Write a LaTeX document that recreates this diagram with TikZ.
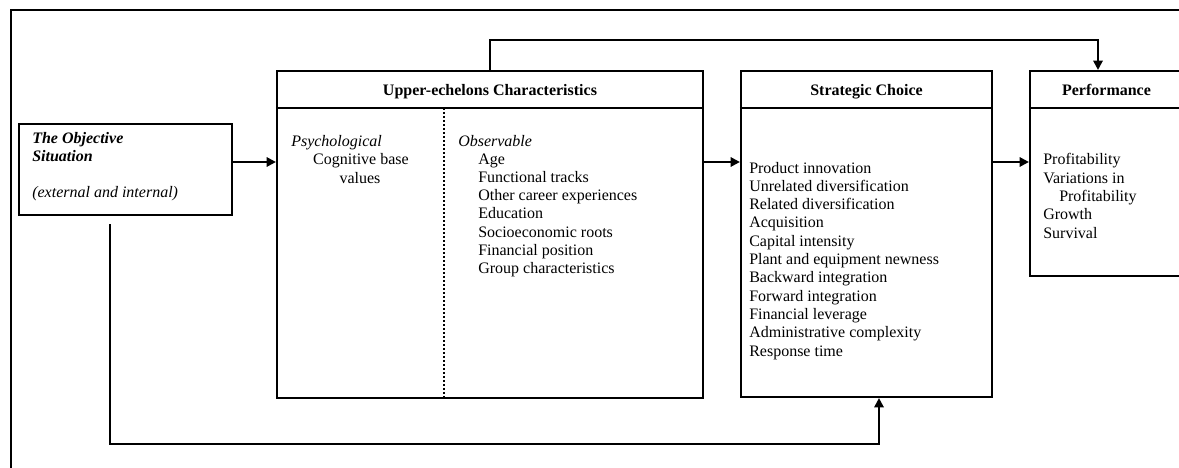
\documentclass[tikz,border=0pt]{standalone}
\usepackage{fontspec}
\setmainfont{Liberation Serif}
\usetikzlibrary{arrows.meta,fit,calc}
\begin{document}
\begin{tikzpicture}[x=0.75pt,y=-0.75pt,
  txt/.style={font=\fontsize{12pt}{13.7pt}\selectfont, inner sep=0pt, anchor=base west},
  head/.style={font=\fontsize{12pt}{13.7pt}\selectfont\bfseries, inner sep=0pt, anchor=base},
  box/.style={draw, line width=1.6pt, inner sep=0pt},
  link/.style={line width=1.6pt},
  conn/.style={line width=1.6pt, -{Triangle[length=7pt,width=7pt]}},
]
\clip (0,0) rectangle (1179,468);

% outer frame
\draw[line width=1.3pt] (11,480) -- (11,10) -- (1195,10);

% boxes
\node[box, fit={(19,124) (232,215)}] (obj) {};
\node[box, fit={(277,71) (703,398)}] (ue) {};
\node[box, fit={(741,71) (992,397)}] (sc) {};
\node[box, fit={(1030,71) (1183,276)}] (perf) {};

% header rules
\foreach \b in {ue,sc,perf}
  \draw[link] ($(\b.north west)+(0,38)$) -- ($(\b.north east)+(0,38)$);
% divider between psychological and observable
\draw[line width=2pt, dash pattern=on 1.6pt off 1.4pt] ($(ue.north west)+(168,38)$) -- ($(ue.south west)+(168,0)$);

% headers
\node[head] (ueh) at ($(ue.north)+(0,26)$) {Upper-echelons Characteristics};
\node[head] (sch) at ($(sc.north)+(0,26)$) {Strategic Choice};
\node[head] (perfh) at ($(perf.north)+(0,26)$) {Performance};

% objective situation
\node[txt, font=\fontsize{12pt}{13.7pt}\selectfont\bfseries\itshape] (o1) at (32,143) {The Objective};
\node[txt, font=\fontsize{12pt}{13.7pt}\selectfont\bfseries\itshape] (o2) at (32,161) {Situation};
\node[txt, font=\fontsize{12pt}{13.7pt}\selectfont\itshape] (o3) at (32,197) {(external and internal)};

% upper-echelons characteristics
\node[txt, font=\fontsize{12pt}{13.7pt}\selectfont\itshape] (psy) at (291,146) {Psychological};
\node[txt, anchor=base] (cog) at (361,164) {Cognitive base};
\node[txt, anchor=base] (val) at (360,183) {values};
\node[txt, font=\fontsize{12pt}{13.7pt}\selectfont\itshape] (obs) at (458,146) {Observable};
\foreach \t [count=\i] in {Age, Functional tracks, Other career experiences, Education,
    Socioeconomic roots, Financial position, Group characteristics}
  \node[txt] (obs\i) at (478,{164+18.3*(\i-1)}) {\t};

% strategic choice
\foreach \t [count=\i] in {Product innovation, Unrelated diversification, Related diversification,
    Acquisition, Capital intensity, Plant and equipment newness, Backward integration,
    Forward integration, Financial leverage, Administrative complexity, Response time}
  \node[txt] (sc\i) at (749,{173+18.3*(\i-1)}) {\t};

% performance
\node[txt] (p1) at (1043,164) {Profitability};
\node[txt] (p2) at (1043,183) {Variations in};
\node[txt] (p3) at (1059,201) {Profitability};
\node[txt] (p4) at (1043,219) {Growth};
\node[txt] (p5) at (1043,238) {Survival};

% main flow
\coordinate (row) at (0,162);
\draw[conn] (obj.east |- row) -- (ue.west |- row);
\draw[conn] (ue.east |- row) -- (sc.west |- row);
\draw[conn] (sc.east |- row) -- (perf.west |- row);

% feedback links
\draw[conn] (ue.north) |- ($(perf.north)+(-8.5,-30)$) -- ($(perf.north)+(-8.5,0)$);
\coordinate (objout) at ($(obj.south)+(-15.5,8)$);
\draw[conn] (objout) |- ($(sc.south)+(12.5,46)$) -- ($(sc.south)+(12.5,0)$);
\end{tikzpicture}
\end{document}
